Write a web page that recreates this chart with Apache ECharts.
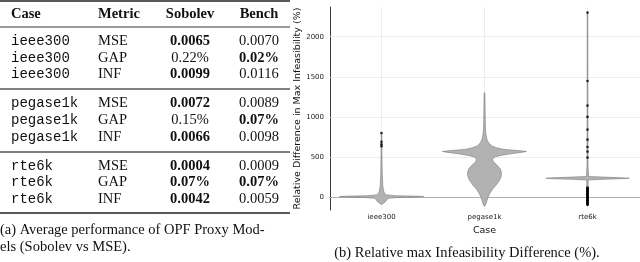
<!DOCTYPE html>
<html>
<head>
<meta charset="utf-8">
<script src="https://cdn.jsdelivr.net/npm/echarts@6.0.0/dist/echarts.min.js"></script>
<style>
html,body{margin:0;padding:0;background:#fff;}
#c{width:640px;height:262px;}
</style>
</head>
<body>
<div id="c"></div>
<script>
// ---------- table data ----------
const tableHeader = ['Case', 'Metric', 'Sobolev', 'Bench'];
const tableCases = ['ieee300','ieee300','ieee300','pegase1k','pegase1k','pegase1k','rte6k','rte6k','rte6k'];
const tableMetrics = ['MSE','GAP','INF','MSE','GAP','INF','MSE','GAP','INF'];
const sobolevVals = ['0.0065','0.22%','0.0099','0.0072','0.15%','0.0066','0.0004','0.07%','0.0042'];
const sobolevBold = [true,false,true,true,false,true,true,true,true];
const benchVals = ['0.0070','0.02%','0.0116','0.0089','0.07%','0.0098','0.0009','0.07%','0.0059'];
const benchBold = [false,true,false,false,true,false,false,true,false];
const captionA = ['(a) Average performance of OPF Proxy Mod-', 'els (Sobolev vs MSE).'];
const captionB = '(b) Relative max Infeasibility Difference (%).';

// ---------- violin data ----------
const cases = ['ieee300', 'pegase1k', 'rte6k'];
const yTicks = [0, 500, 1000, 1500, 2000];
const yName = 'Relative Difference in Max Infeasibility (%)';
const xName = 'Case';
// [value, half width as fraction of category width]
const ieeeProfile = [[-90,0.003],[-75,0.02],[-55,0.04],[-35,0.05],[-15,0.065],[-5,0.15],[2,0.35],[7,0.41],[12,0.35],[18,0.14],[28,0.05],[45,0.03],[80,0.02],[150,0.012],[300,0.007],[500,0.005],[800,0.003]];
const pegaseProfile = [[-110,0.005],[-80,0.015],[-40,0.025],[0,0.034],[50,0.053],[100,0.078],[150,0.112],[200,0.141],[250,0.160],[300,0.165],[350,0.155],[400,0.121],[440,0.087],[470,0.078],[500,0.097],[520,0.155],[540,0.252],[560,0.369],[570,0.408],[580,0.330],[595,0.194],[615,0.117],[640,0.068],[680,0.039],[720,0.024],[800,0.012],[900,0.008],[1100,0.006],[1300,0.004]];
const rteProfile = [[-100,0.004],[100,0.006],[200,0.007],[214,0.01],[222,0.15],[230,0.33],[236,0.405],[242,0.33],[250,0.15],[258,0.01],[400,0.005],[1000,0.004],[2300,0.003]];
const ieeeOutliers = [800, 690, 660, 635];
const pegaseOutliers = [];
const rteOutliers = [2300, 1448, 1141, 1000, 842, 717, 626, 568, 493,
  120, 112, 104, 96, 88, 80, 72, 64, 56, 48, 40, 32, 24, 16, 8, 0, -8, -16, -24, -32, -40, -48, -56, -64, -72, -80, -88, -96];

const profiles = [ieeeProfile, pegaseProfile, rteProfile];
const outliers = [ieeeOutliers, pegaseOutliers, rteOutliers];

// ---------- table graphics ----------
const SERIF = '"Liberation Serif", "Times New Roman", serif';
const MONO = '"Liberation Mono", "Courier New", monospace';
const graphics = [];
function txt(t, x, y, font, align) {
  graphics.push({type:'text', silent:true, style:{text:t, x:x, y:y, font:font, fill:'#111', align:align||'left', verticalAlign:'middle'}});
}
function rule(y, w, color) {
  graphics.push({type:'line', silent:true, shape:{x1:0, y1:y, x2:290, y2:y}, style:{stroke:color||'#222', lineWidth:w}});
}
const colX = {caseX: 11, metricX: 98, sobX: 190, benchX: 259};
const headerY = 14;
const rowY = [41.5, 58, 74.5, 103, 120, 137, 166, 182.5, 199];
rule(1, 1.6); rule(27, 0.9); rule(89, 1.5, '#555'); rule(152, 1.5, '#555'); rule(213, 1.6);
txt(tableHeader[0], colX.caseX, headerY, 'bold 14.5px ' + SERIF);
txt(tableHeader[1], colX.metricX, headerY, 'bold 14.5px ' + SERIF);
txt(tableHeader[2], colX.sobX, headerY, 'bold 14.5px ' + SERIF, 'center');
txt(tableHeader[3], colX.benchX, headerY, 'bold 14.5px ' + SERIF, 'center');
tableCases.forEach((c, i) => {
  txt(c, colX.caseX, rowY[i], '14px ' + MONO);
  txt(tableMetrics[i], colX.metricX, rowY[i], '14.5px ' + SERIF);
  txt(sobolevVals[i], colX.sobX, rowY[i], (sobolevBold[i] ? 'bold ' : '') + '14.5px ' + SERIF, 'center');
  txt(benchVals[i], colX.benchX, rowY[i], (benchBold[i] ? 'bold ' : '') + '14.5px ' + SERIF, 'center');
});
txt(captionA[0], 0, 230, '14.5px ' + SERIF);
txt(captionA[1], 0, 247, '14.5px ' + SERIF);
txt(captionB, 467, 253, '14.5px ' + SERIF, 'center');

// ---------- chart ----------
function renderViolin(params, api) {
  const i = api.value(0);
  const prof = profiles[i];
  const bw = api.size([1, 0])[0];
  const right = [], left = [];
  prof.forEach(p => {
    const c = api.coord([i, p[0]]);
    right.push([c[0] + p[1] * bw, c[1]]);
    left.push([c[0] - p[1] * bw, c[1]]);
  });
  const pts = right.concat(left.reverse());
  return {type:'polygon', shape:{points:pts}, style:{fill:'#b2b2b2', stroke:'#7c7c7c', lineWidth:0.6}};
}

const scatterData = [];
outliers.forEach((arr, i) => arr.forEach(v => scatterData.push([i, v])));

const gridMarks = yTicks.map(v => ({yAxis: v})).concat(cases.map(c => ({xAxis: c})));

const chart = echarts.init(document.getElementById('c'), null, {renderer:'canvas'});
chart.setOption({
  animation: false,
  graphic: graphics,
  grid: {left: 330, right: 1, top: 7, bottom: 52, containLabel: false},
  xAxis: {
    type: 'category', data: cases, boundaryGap: true,
    name: xName, nameLocation: 'middle', nameGap: 14,
    nameTextStyle: {fontFamily: 'DejaVu Sans', fontSize: 9.5, color: '#111'},
    axisLine: {lineStyle: {color: '#3a3a3a', width: 1}},
    axisTick: {show: true, alignWithLabel: true, inside: true, length: 3, lineStyle: {color: '#3a3a3a'}},
    axisLabel: {fontFamily: 'DejaVu Sans', fontSize: 7, color: '#222', margin: 4},
    splitLine: {show: false}
  },
  yAxis: {
    type: 'value', min: -160, max: 2370,
    name: yName, nameLocation: 'middle', nameGap: 27,
    nameTextStyle: {fontFamily: 'DejaVu Sans', fontSize: 9.5, color: '#111'},
    axisLine: {show: true, lineStyle: {color: '#3a3a3a', width: 1}},
    axisTick: {show: false, customValues: yTicks},
    axisLabel: {customValues: yTicks, formatter: v => String(v), fontFamily: 'DejaVu Sans', fontSize: 7, color: '#222', margin: 6},
    splitLine: {show: false}
  },
  series: [
    {
      type: 'custom', z: 3,
      data: cases.map((c, i) => [i, 0]),
      encode: {x: 0, y: 1},
      renderItem: renderViolin,
      silent: true
    },
    {
      type: 'scatter', z: 4,
      data: scatterData,
      symbol: 'circle', symbolSize: 2.6,
      itemStyle: {color: '#000'},
      silent: true,
      markLine: {
        z: 1, silent: true, symbol: ['none', 'none'],
        label: {show: false},
        lineStyle: {color: '#e6e6e6', width: 0.7, type: 'solid'},
        emphasis: {disabled: true},
        data: gridMarks
      }
    }
  ]
});
</script>
</body>
</html>
